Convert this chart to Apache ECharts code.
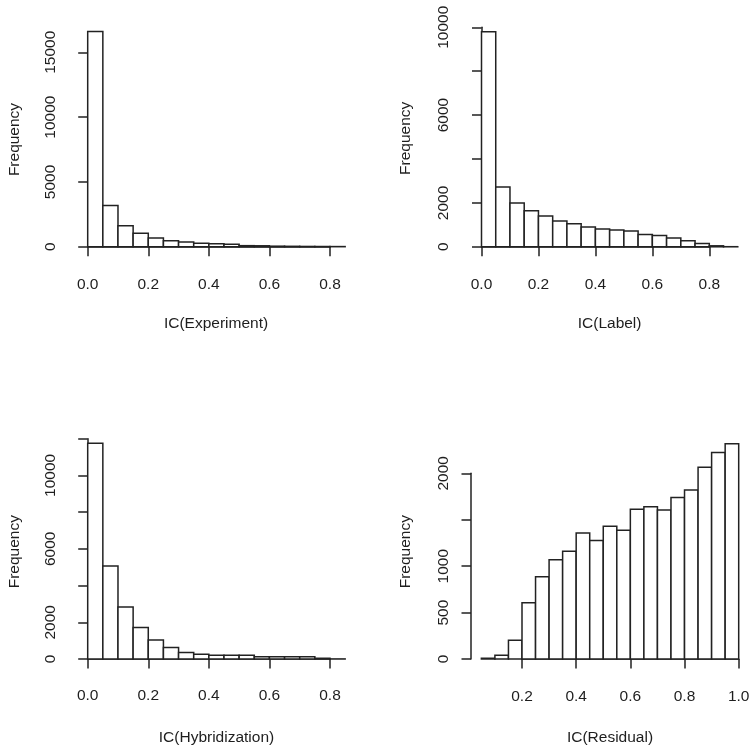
<!DOCTYPE html>
<html>
<head>
<meta charset="utf-8">
<script src="https://cdn.jsdelivr.net/npm/echarts@6/dist/echarts.min.js"></script>
<style>
html,body{margin:0;padding:0;background:#fff;}
#chart{width:755px;height:751px;}
</style>
</head>
<body>
<div id="chart"></div>
<script>
// ---- Data ----
const binWidth = 0.05;

const expBins   = [0.00,0.05,0.10,0.15,0.20,0.25,0.30,0.35,0.40,0.45,0.50,0.55,0.60,0.65,0.70,0.75,0.80];
const expCounts = [16600,3170,1620,1040,670,460,360,263,230,185,80,70,40,30,20,15,10];

const labBins   = [0.00,0.05,0.10,0.15,0.20,0.25,0.30,0.35,0.40,0.45,0.50,0.55,0.60,0.65,0.70,0.75,0.80,0.85];
const labCounts = [9800,2720,1990,1640,1400,1170,1050,900,810,760,715,560,515,400,275,150,45,5];

const hybBins   = [0.00,0.05,0.10,0.15,0.20,0.25,0.30,0.35,0.40,0.45,0.50,0.55,0.60,0.65,0.70,0.75,0.80];
const hybCounts = [11750,5070,2830,1710,1040,620,350,260,200,200,200,125,125,125,125,40,5];

const resBins   = [0.05,0.10,0.15,0.20,0.25,0.30,0.35,0.40,0.45,0.50,0.55,0.60,0.65,0.70,0.75,0.80,0.85,0.90,0.95];
const resCounts = [8,40,203,607,885,1070,1160,1358,1276,1430,1387,1613,1640,1604,1740,1821,2064,2223,2318];

// axis tick labels (blank = tick without label, as in the reference)
const expYLabels = {0:'0',5000:'5000',10000:'10000',15000:'15000'};
const labYLabels = {0:'0',2000:'2000',4000:'',6000:'6000',8000:'',10000:'10000'};
const hybYLabels = {0:'0',2000:'2000',4000:'',6000:'6000',8000:'',10000:'10000',12000:''};
const resYLabels = {0:'0',500:'500',1000:'1000',1500:'',2000:'2000'};

const xTitles = ['IC(Experiment)','IC(Label)','IC(Hybridization)','IC(Residual)'];
const yTitle = 'Frequency';

// ---- Layout / style ----
const FONT = '"Liberation Sans", Arial, Helvetica, sans-serif';
const INK = '#1e1e1e';
const LINE = '#222';
const LW = 1.5;
const FS = 15.5;

const panels = [
  {bins:expBins, counts:expCounts, ylab:expYLabels, grid:{left:87.7, top:52.3, width:242.3, height:194.4},
   x:{min:0,max:0.8,interval:0.2}, y:{min:0,max:15000,interval:5000}, xoff:9, yoff:9.5,
   xt:[216,324], yt:[15,139.5]},
  {bins:labBins, counts:labCounts, ylab:labYLabels, grid:{left:481.5, top:27.3, width:227.8, height:219.5},
   x:{min:0,max:0.8,interval:0.2}, y:{min:0,max:10000,interval:2000}, xoff:8.5, yoff:10.8,
   xt:[609.6,324], yt:[405.3,138.3]},
  {bins:hybBins, counts:hybCounts, ylab:hybYLabels, grid:{left:87.7, top:438.7, width:242.3, height:220.3},
   x:{min:0,max:0.8,interval:0.2}, y:{min:0,max:12000,interval:2000}, xoff:8, yoff:10,
   xt:[216.5,737.7], yt:[15,551.7]},
  {bins:resBins, counts:resCounts, ylab:resYLabels, grid:{left:522, top:473.3, width:216.7, height:185.7},
   x:{min:0.2,max:1.0,interval:0.2}, y:{min:0,max:2000,interval:500}, xoff:8.5, yoff:51,
   xt:[610,737.7], yt:[405.3,551.7]}
];

const grids = [], xAxes = [], yAxes = [], series = [], graphics = [];

panels.forEach((p, i) => {
  grids.push(Object.assign({containLabel:false}, p.grid));
  xAxes.push({
    type:'value', gridIndex:i, min:p.x.min, max:p.x.max, interval:p.x.interval,
    offset:p.xoff,
    axisLine:{show:true, lineStyle:{color:LINE, width:LW}},
    axisTick:{show:true, length:9.5, lineStyle:{color:LINE, width:LW}},
    splitLine:{show:false},
    axisLabel:{margin:21, fontSize:FS, color:INK, fontFamily:FONT,
      formatter:v => v.toFixed(1)}
  });
  yAxes.push({
    type:'value', gridIndex:i, min:p.y.min, max:p.y.max, interval:p.y.interval,
    offset:p.yoff,
    axisLine:{show:true, lineStyle:{color:LINE, width:LW}},
    axisTick:{show:true, length:9.5, lineStyle:{color:LINE, width:LW}},
    splitLine:{show:false},
    axisLabel:{margin:19, rotate:90, fontSize:FS, color:INK, fontFamily:FONT,
      formatter:v => (p.ylab[v] !== undefined ? p.ylab[v] : String(v))}
  });
  series.push({
    type:'custom', xAxisIndex:i, yAxisIndex:i, clip:false, silent:true,
    data:p.bins.map((b, k) => [b, b + binWidth, p.counts[k]]),
    encode:{x:[0,1], y:2},
    renderItem:(params, api) => {
      const a = api.coord([api.value(0), api.value(2)]);
      const b = api.coord([api.value(1), 0]);
      return {type:'rect',
        shape:{x:a[0], y:a[1], width:b[0]-a[0], height:b[1]-a[1]},
        style:{fill:'#fff', stroke:LINE, lineWidth:LW}};
    }
  });
  graphics.push({type:'text', x:p.xt[0], y:p.xt[1],
    style:{text:xTitles[i], font:FS+'px '+FONT, fill:INK, align:'center', verticalAlign:'middle'}});
  graphics.push({type:'text', x:p.yt[0], y:p.yt[1], rotation:Math.PI/2,
    style:{text:yTitle, font:FS+'px '+FONT, fill:INK, align:'center', verticalAlign:'middle'}});
});

const chart = echarts.init(document.getElementById('chart'), null, {renderer:'canvas'});
chart.setOption({
  animation:false,
  backgroundColor:'#fff',
  grid:grids, xAxis:xAxes, yAxis:yAxes, series:series, graphic:graphics
});
</script>
</body>
</html>
